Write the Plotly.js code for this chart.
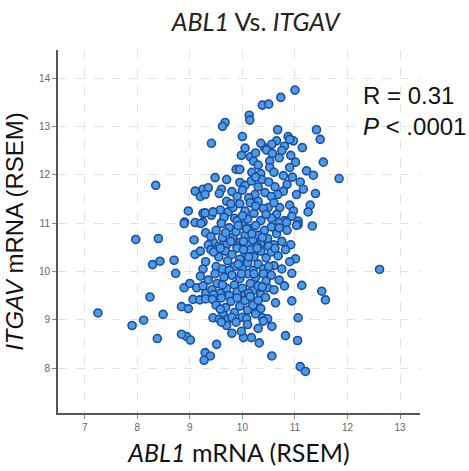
<!DOCTYPE html>
<html>
<head>
<meta charset="utf-8">
<script src="https://cdn.plot.ly/plotly-3.0.1.min.js"></script>
<style>html,body{margin:0;padding:0;background:#fff;}#chart{width:469px;height:471px;}</style>
</head>
<body>
<div id="chart"></div>
<script>
// ABL1 mRNA (RSEM) values, x
const abl1 = [
11.00,10.73,10.38,10.50,10.13,10.14,9.67,9.62,10.67,11.41,10.87,10.97,10.90,11.48,10.00,9.41,
10.65,10.56,10.42,10.46,10.80,11.14,10.57,10.92,11.01,10.52,10.52,10.90,11.54,11.22,11.35,9.98,10.15,10.21,9.88,9.95,10.25,10.30,10.18,10.35,10.70,10.60,10.78,10.05,10.35,10.75,
11.84,11.10,10.37,11.16,11.03,11.39,10.78,10.62,10.67,10.43,10.24,9.48,9.25,9.35,9.10,9.20,9.29,9.60,9.56,9.95,10.05,10.17,8.35,9.80,9.90,10.00,10.12,10.30,10.50,10.55,10.85,9.70,10.25,10.95,
11.29,11.25,10.90,10.97,10.94,10.71,10.65,10.49,11.06,11.33,11.06,8.97,9.25,9.41,9.58,9.73,9.82,8.90,9.10,9.25,9.44,9.29,9.60,9.70,9.85,9.95,10.05,10.15,10.10,10.22,10.30,10.35,10.40,10.55,10.60,10.80,9.90,10.00,10.25,9.65,9.78,10.45,10.70,10.84,11.03,
8.89,9.21,9.60,9.08,7.97,8.40,9.30,9.45,9.50,9.62,9.70,9.75,9.82,9.88,9.95,10.00,10.05,10.10,10.15,10.20,10.25,10.30,10.35,10.42,10.48,10.55,10.60,10.65,10.75,10.85,10.92,9.40,9.55,9.68,9.90,10.08,10.38,10.70,10.02,9.78,10.18,10.28,9.92,10.50,9.35,
8.29,8.43,8.70,11.01,12.61,9.10,9.30,9.40,9.50,9.55,9.62,9.68,9.72,9.80,9.85,9.90,9.95,10.00,10.05,10.10,10.15,10.20,10.22,10.30,10.35,10.40,10.45,10.55,10.60,10.68,10.75,10.82,10.90,9.45,9.58,9.75,9.92,10.12,10.28,10.50,9.25,9.20,10.62,10.02,
8.73,8.89,9.00,9.13,10.94,11.13,11.51,10.48,9.20,9.30,9.35,9.42,9.48,9.52,9.58,9.65,9.70,9.75,9.80,9.85,9.90,9.95,10.00,10.05,10.10,10.15,10.20,10.25,10.30,10.35,10.40,10.45,10.55,10.60,10.70,10.80,9.25,9.45,9.62,10.12,10.38,10.22,9.98,
8.24,7.25,8.49,8.12,8.84,8.97,9.06,9.19,9.30,9.43,10.63,10.94,11.58,11.06,10.44,10.35,10.38,10.48,10.40,9.44,9.56,9.63,9.73,9.50,9.60,9.68,9.78,9.85,9.90,9.95,10.00,10.05,10.10,10.15,10.20,10.25,10.30,9.80,10.08,9.58,
7.90,8.38,8.94,8.84,9.01,9.51,9.29,9.39,9.27,10.56,10.82,11.05,11.10,11.20,10.56,10.30,10.17,10.32,10.02,9.98,9.70,9.80,9.88,10.10,9.60
];
// ITGAV mRNA (RSEM) values, y
const itgav = [
13.75,13.60,13.44,13.46,13.23,13.13,13.08,13.00,12.93,12.93,12.79,12.70,12.73,12.73,12.79,12.65,
12.70,12.63,12.56,12.51,12.59,12.56,12.44,12.40,12.26,12.28,12.15,12.15,12.26,12.08,11.99,12.40,12.37,12.28,12.11,12.11,12.45,12.20,12.05,12.02,12.35,12.05,11.98,12.55,12.65,12.50,
11.92,11.85,11.90,11.70,11.59,11.61,11.66,11.75,11.59,11.63,11.59,11.94,11.70,11.73,11.66,11.55,11.59,11.70,11.61,11.84,11.78,11.87,11.78,11.65,11.55,11.68,11.52,11.75,11.85,11.55,11.80,11.90,11.95,11.95,
11.37,11.23,11.37,11.25,11.14,11.32,11.18,11.32,11.04,10.94,10.97,11.25,11.20,11.16,11.27,11.23,11.32,11.02,11.01,11.02,11.23,11.21,11.01,11.45,11.10,11.40,11.25,11.42,11.08,11.20,11.45,11.05,11.30,11.10,11.42,11.05,11.05,11.15,11.35,11.12,11.40,11.18,11.00,11.01,10.95,
10.99,10.99,10.99,10.65,10.66,10.68,10.80,10.60,10.85,10.70,10.55,10.90,10.70,10.82,10.60,10.95,10.75,10.55,10.88,10.65,10.95,10.75,10.58,10.85,10.68,10.92,10.55,10.78,10.62,10.85,10.55,10.72,10.52,10.80,10.52,10.88,10.70,10.90,10.62,10.62,10.78,10.52,10.95,10.52,10.55,
10.14,10.21,10.23,10.26,10.04,10.35,10.20,10.45,10.10,10.30,10.05,10.42,10.22,10.35,10.10,10.48,10.25,10.05,10.38,10.18,10.45,10.02,10.30,10.15,10.42,10.05,10.28,10.40,10.12,10.32,10.05,10.45,10.20,10.40,10.48,10.02,10.15,10.30,10.48,10.10,10.05,10.42,10.48,10.45,
9.96,9.66,9.75,9.66,9.96,9.71,9.59,9.66,9.90,9.55,9.82,9.62,9.95,9.75,9.55,9.88,9.65,9.50,9.92,9.72,9.58,9.85,9.65,9.52,9.95,9.75,9.60,9.88,9.70,9.52,9.95,9.80,9.92,9.62,9.82,9.70,9.70,9.52,9.72,9.55,9.68,9.95,9.95,
9.47,9.14,9.11,8.99,9.27,9.23,9.42,9.41,9.43,9.42,9.35,9.39,9.41,9.04,9.46,9.23,9.04,9.02,8.97,9.04,9.01,9.14,9.02,9.30,9.45,9.25,9.38,9.15,9.45,9.28,9.05,9.40,9.20,9.48,9.30,9.12,9.40,9.05,9.02,9.22,
8.88,8.61,8.65,8.70,8.58,8.49,8.32,8.25,8.16,8.25,8.67,8.57,8.03,7.93,8.86,8.82,8.63,8.52,8.63,8.76,8.88,8.72,8.95,8.90,8.95
];
const xTicks = [7, 8, 9, 10, 11, 12, 13];
const yTicks = [8, 9, 10, 11, 12, 13, 14];
const statLines = ['R = 0.31', '<i>P</i> < .0001'];

const trace = {
  x: abl1, y: itgav, type: 'scatter', mode: 'markers',
  marker: {size: 8, color: '#4b9be9', line: {color: '#1f4d98', width: 1.6}},
  hoverinfo: 'x+y', showlegend: false
};

const axisCommon = {
  showgrid: true, gridcolor: '#e3e3e3', griddash: 'dash', gridwidth: 1,
  zeroline: false, showline: true, linecolor: '#555', linewidth: 2,
  ticks: 'outside', ticklen: 4, tickwidth: 1, tickcolor: '#888',
  tickfont: {family: 'Liberation Sans, Arial, sans-serif', size: 10, color: '#666'},
  tickmode: 'array'
};

const layout = {
  width: 469, height: 471,
  margin: {l: 58, r: 49, t: 50, b: 58},
  paper_bgcolor: '#fff', plot_bgcolor: '#fff',
  title: {
    text: '<i>ABL1</i> Vs. <i>ITGAV</i>',
    font: {family: 'Lato, Carlito, Calibri, sans-serif', size: 25, color: '#222'},
    x: 0.545, xanchor: 'center', y: 0.952, yanchor: 'middle'
  },
  xaxis: Object.assign({}, axisCommon, {
    range: [6.49, 13.38], tickvals: xTicks, ticktext: xTicks.map(String),
    title: {text: '<i>ABL1</i> mRNA (RSEM)', standoff: 12,
      font: {family: 'Lato, Carlito, Calibri, sans-serif', size: 25, color: '#111'}}
  }),
  yaxis: Object.assign({}, axisCommon, {
    range: [7.07, 14.58], tickvals: yTicks, ticktext: yTicks.map(String),
    title: {text: '<i>ITGAV</i> mRNA (RSEM)', standoff: 8,
      font: {family: 'Liberation Sans, Arial, sans-serif', size: 24, color: '#111'}}
  }),
  annotations: statLines.map((t, i) => ({
    text: t, xref: 'paper', yref: 'paper', x: 0.838, y: 0.876 - i * 0.088,
    xanchor: 'left', yanchor: 'middle', showarrow: false,
    font: {family: 'Liberation Sans, Arial, sans-serif', size: 24, color: '#111'}
  }))
};

Plotly.newPlot('chart', [trace], layout, {displayModeBar: false, staticPlot: true});
</script>
</body>
</html>
